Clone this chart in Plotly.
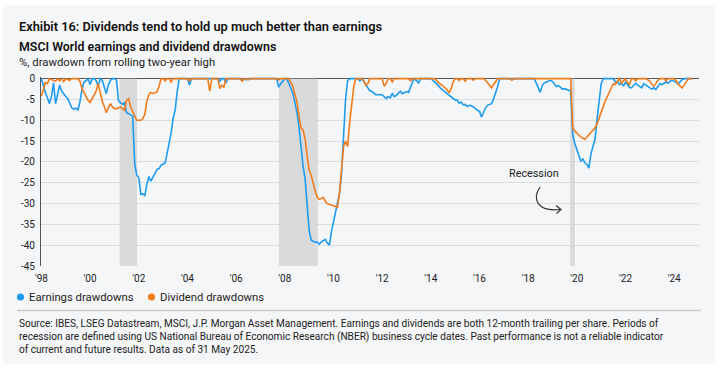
import plotly.graph_objects as go

# ---------------- data ----------------
earn_dates = [
    "1998-01","1998-02","1998-03","1998-04","1998-05","1998-06","1998-07","1998-08","1998-09","1998-10","1998-11","1998-12",
    "1999-01","1999-02","1999-03","1999-04","1999-05","1999-06","1999-07","1999-08","1999-09","1999-10","1999-11","1999-12",
    "2000-01","2000-02","2000-03","2000-04","2000-05","2000-06","2000-07","2000-08","2000-09","2000-10","2000-11","2000-12",
    "2001-01","2001-02","2001-03","2001-04","2001-05","2001-06","2001-07","2001-08","2001-09","2001-10","2001-11","2001-12",
    "2002-01","2002-02","2002-03","2002-04","2002-05","2002-06","2002-07","2002-08","2002-09","2002-10","2002-11","2002-12",
    "2003-01","2003-02","2003-03","2003-04","2003-05","2003-06","2003-07","2003-08","2003-09",
    "2004-01","2004-02","2004-03",
    "2005-04","2005-05","2005-06","2005-07","2005-08","2005-09",
    "2006-03","2006-04","2006-05","2006-06","2006-07",
    "2007-09","2007-10","2007-11","2007-12","2008-01","2008-02","2008-03",
    "2008-04","2008-05","2008-06","2008-07","2008-08","2008-09","2008-10","2008-11","2008-12",
    "2009-01","2009-02","2009-03","2009-04","2009-05","2009-06","2009-07","2009-08","2009-09","2009-10","2009-11","2009-12",
    "2010-01","2010-02","2010-03","2010-04","2010-05","2010-06","2010-07","2010-08","2010-09",
    "2011-01","2011-02","2011-03","2011-04","2011-05","2011-06","2011-07","2011-08","2011-09","2011-10","2011-11","2011-12",
    "2012-01","2012-02","2012-03","2012-04","2012-05","2012-06","2012-07","2012-08","2012-09","2012-10","2012-11","2012-12",
    "2013-01","2013-02","2013-03","2013-04","2013-05","2013-06","2013-07","2013-08",
    "2014-01","2014-02","2014-03","2014-04","2014-05","2014-06","2014-07","2014-08","2014-09","2014-10","2014-11","2014-12",
    "2015-01","2015-02","2015-03","2015-04","2015-05","2015-06","2015-07","2015-08","2015-09","2015-10","2015-11","2015-12",
    "2016-01","2016-02","2016-03","2016-04","2016-05","2016-06","2016-07","2016-08","2016-09","2016-10","2016-11",
    "2018-04","2018-05","2018-06","2018-07","2018-08","2018-09","2018-10","2018-11","2018-12",
    "2019-01","2019-02","2019-03","2019-04","2019-05","2019-06","2019-07","2019-08","2019-09","2019-10","2019-11","2019-12",
    "2020-01","2020-02","2020-03","2020-04","2020-05","2020-06","2020-07","2020-08","2020-09","2020-10","2020-11","2020-12",
    "2021-01","2021-02","2021-07","2021-08","2021-09","2021-10","2021-11","2021-12",
    "2022-01","2022-02","2022-03","2022-04","2022-05","2022-06","2022-07","2022-08","2022-09","2022-10","2022-11","2022-12",
    "2023-01","2023-02","2023-03","2023-04","2023-05","2023-06","2023-07","2023-08","2023-09","2023-10","2023-11","2023-12",
    "2024-01","2024-02","2024-03","2024-04","2024-05","2024-06","2024-10",
]
earn_vals = [
    0, -2, -3.4, -4.6, -6, -4.2, -1, -6, -3.2, -1.5, -3, -3.8,
    -4.3, -4.8, -6, -7, -7.3, -7.1, -7.6, -5.6, -2.6, -0.8, -0.5, 0,
    -1.4, 0, 0, -0.5, -1.8, 0, -0.4, -2, -3.6, -1.5, -0.4, 0,
    0, -0.4, -5.2, -5.8, -6.1, -5.8, -8.2, -8.4, -8.7, -9, -20.5, -23.2,
    -23.8, -27.8, -27.7, -28.1, -25.5, -23.5, -24.6, -23.6, -22.8, -21.8, -21.6, -20.8,
    -20.5, -20.2, -18, -15.5, -13, -9.5, -7.5, -3, 0,
    0, -1.5, 0,
    0, -0.6, 0, 0, -1, 0,
    0, -0.4, 0, -0.3, 0,
    0, -2, -1.2, -0.5, 0, 0, -1,
    -2.4, -3.5, -5.8, -8, -11.5, -17, -21, -24, -30,
    -36.5, -38.8, -39, -39.3, -39.2, -39.8, -39.2, -38.8, -38.6, -39.5, -40, -36.8,
    -34.5, -32.5, -30.5, -27.5, -23, -14, -5, -0.5, 0,
    0, -0.5, 0, -0.8, -1.4, -2.4, -2.9, -3.1, -3.6, -3.9, -3.8, -3.9,
    -3.9, -4.3, -4.8, -4.3, -4.6, -3.5, -4.3, -4, -3.4, -3, -3.6, -3.3,
    -3.1, -3.3, -2, -0.8, 0, -0.5, -1, 0,
    0, -0.4, -0.8, -1.2, -1.8, -2.4, -2.7, -3.1, -3.6, -4, -4.5, -4.8,
    -5.1, -5.2, -5.9, -5.6, -6.3, -6.2, -6.7, -6.4, -6.5, -6.8, -7.3, -7.6,
    -7.8, -9.2, -8.2, -7, -6.4, -6.2, -6, -4.8, -3.4, -1.8, 0,
    0, -1, -2.2, -3.3, -1.6, -1, -0.8, -0.6, -0.4,
    -0.7, -1.5, -1.9, -1.7, -2.1, -2.5, -2.4, -2.7, -2.8, -3, -13.5, -15.5,
    -17, -18.8, -19.8, -19.3, -20.2, -20.6, -21.5, -18, -16, -14.5, -9.5, -5,
    -1.2, 0, 0, -0.8, -0.6, -1.4, -1, -1.8,
    -0.9, -1.4, -2.2, -2.2, -1.6, -1.1, -1.5, -1.9, -2.2, -1.2, -1.6, -2,
    -2.2, -2.5, -2.2, -2.6, -1.8, -1.2, -1.4, -1, -0.8, -1.1, -0.6, -0.4,
    -0.6, -0.9, -1.3, -0.8, -0.2, 0, 0,
]

div_dates = [
    "1998-01","1998-02","1998-03","1998-04","1998-05","1998-08","1998-09","1998-10","1998-11","1998-12",
    "1999-01","1999-03","1999-04","1999-07","1999-08","1999-09","1999-10","1999-11","1999-12",
    "2000-01","2000-02","2000-03","2000-04","2000-05","2000-06","2000-07","2000-08","2000-09","2000-10","2000-11","2000-12",
    "2001-01","2001-02","2001-03","2001-04","2001-05","2001-06","2001-07","2001-08","2001-09","2001-10","2001-11","2001-12",
    "2002-01","2002-02","2002-03","2002-04","2002-05","2002-06","2002-07","2002-08","2002-09","2002-10","2002-11","2002-12",
    "2003-01","2003-02","2003-03","2003-04","2003-05","2003-06","2004-01","2004-02","2004-03","2004-11","2004-12",
    "2005-01","2005-04","2005-05","2005-06","2005-07","2005-08","2006-03","2006-04","2006-05","2006-06","2006-07","2006-08",
    "2007-09","2007-10","2007-11",
    "2008-03","2008-04","2008-05","2008-06","2008-07","2008-08","2008-09","2008-10","2008-11","2008-12",
    "2009-01","2009-02","2009-03","2009-04","2009-05","2009-06","2009-07","2009-08","2009-09","2009-10","2009-11","2009-12",
    "2010-01","2010-02","2010-03","2010-04","2010-05","2010-06","2010-07","2010-08","2010-09","2010-10","2010-11","2010-12",
    "2011-03","2011-04","2011-05","2011-06","2011-07","2012-01","2012-02","2012-03","2012-04","2012-05","2012-06","2012-07",
    "2013-02","2013-03","2013-04",
    "2014-03","2014-04","2014-05","2014-06","2014-07","2014-08","2014-09","2014-10","2014-11","2014-12",
    "2015-01","2015-02","2015-03","2015-04","2015-05","2015-06","2015-07","2015-09","2015-10","2015-11",
    "2016-03","2016-04","2016-05","2016-06","2016-07","2016-08","2016-09","2016-10","2017-04","2017-05","2017-06",
    "2019-10","2019-11","2019-12",
    "2020-01","2020-02","2020-03","2020-04","2020-05","2020-06","2020-07","2020-08","2020-09","2020-10","2020-11","2020-12",
    "2021-01","2021-02","2021-03","2021-04","2021-05","2021-06","2021-07","2021-08","2021-09","2021-10","2021-11","2021-12",
    "2022-01","2022-02","2022-03","2022-04","2022-05","2022-06","2022-07","2022-11","2022-12",
    "2023-01","2023-02","2023-03","2023-04","2023-05","2023-06","2023-08","2023-09","2023-10",
    "2024-01","2024-02","2024-03","2024-04","2024-05","2024-06","2024-07","2024-08","2024-10",
]
div_vals = [
    -4.2, -2.2, -0.9, -1.2, 0, -0.6, 0, -0.5, 0, -0.7,
    0, -0.4, 0, 0, -0.6, -2.4, -3.4, -4.4, -5.2,
    -5.7, -4.8, -3.6, -3, -1.2, -3.5, -5.4, -6.7, -8.2, -7, -6, -6.8,
    -7.2, -7.2, -7, -6.8, -7.2, -7.6, -5.2, -4.8, -6.8, -8, -9, -10,
    -10, -10, -9.6, -8.6, -5.5, -3.8, -3.3, -3.6, -3.4, -3.2, -1.8, 0,
    0, -0.5, 0, 0, -0.8, 0, 0, -0.5, 0, 0, -3,
    0, 0, -2.4, -1.6, -2, 0, 0, -0.6, 0, 0, -0.3, 0,
    0, -0.3, 0,
    0, -1, -1.8, -3.8, -5.5, -9, -11.8, -12.4, -14.5, -18.5,
    -22, -23.2, -25.2, -27, -28.5, -29, -28.8, -28.5, -29.5, -30, -30.2, -30.3,
    -30.5, -30.7, -30.9, -27.5, -22, -16.3, -15, -16.3, -10.5, -6, -2, 0,
    0, -0.5, -1.6, -1.2, 0, 0, -1.8, -1.2, 0, 0, -0.8, 0,
    0, -0.5, 0,
    0, -0.6, -1, -1.4, -1.8, -2.2, -2.6, -3.4, -2.4, -0.8,
    0, 0, -0.4, 0, 0, -0.6, 0, 0, -0.4, 0,
    0, -0.4, -1, -1.4, -2.2, -1.4, -0.6, 0, 0, -0.4, 0,
    0, -12, -12.6,
    -13.2, -13.6, -14, -14.4, -14.6, -14, -13.4, -12.8, -12.3, -11.8, -10.8, -9.4,
    -7.8, -6.6, -5.4, -4.4, -3.4, -2.4, -1.2, -1.4, -0.6, 0, -1, -0.5,
    0, -1, -1.4, 0, 0, -0.5, 0, 0, -0.3,
    -0.6, -1.4, -1.8, -1.2, -0.4, 0, 0, -0.5, 0,
    0, -0.5, -1.4, -1.8, -2.2, -1.5, -0.8, 0, 0,
]

series_names = ["Earnings drawdowns", "Dividend drawdowns"]

# recession bands (as positioned in the reference)
rec_start = ["2001-03-18", "2007-10-05", "2019-09-24"]
rec_end = ["2001-12-05", "2009-05-10", "2019-12-01"]

# axis ticks
x_tickvals = [f"{y}-01-01" for y in range(1998, 2025, 2)]
x_ticktext = ["'98", "'00", "'02", "'04", "'06", "'08", "'10", "'12", "'14", "'16", "'18", "'20", "'22", "'24"]
y_tickvals = [-45, -40, -35, -30, -25, -20, -15, -10, -5, 0]
y_ticktext = ["-45", "-40", "-35", "-30", "-25", "-20", "-15", "-10", "-5", "0"]

# ---------------- layout helpers ----------------
W, H = 720, 369
L, R, T, B = 41, 21, 77, 103
PW, PH = W - L - R, H - T - B


def px(X):
    return (X - L) / PW


def py(Y):
    return (H - B - Y) / PH


BLUE = "#1f9bf0"
ORANGE = "#f07c1c"
PANEL = "#f5f6f8"
FONT = "Roboto"
TXT = "#222222"

fig = go.Figure()
fig.add_trace(go.Scatter(x=earn_dates, y=earn_vals, mode="lines",
                         line=dict(color=BLUE, width=1.6), showlegend=False,
                         name=series_names[0]))
fig.add_trace(go.Scatter(x=div_dates, y=div_vals, mode="lines",
                         line=dict(color=ORANGE, width=1.6), showlegend=False,
                         name=series_names[1]))

shapes = [
    dict(type="rect", xref="paper", yref="paper", x0=px(3), x1=px(715), y0=py(364), y1=py(5),
         fillcolor=PANEL, line=dict(width=0), layer="below"),
    dict(type="line", xref="paper", yref="paper", x0=px(17), x1=px(701), y0=py(310.5), y1=py(310.5),
         line=dict(color="#c8c9cb", width=1.5)),
]
for s, e in zip(rec_start, rec_end):
    shapes.append(dict(type="rect", xref="x", yref="y", x0=s, x1=e, y0=-45, y1=0,
                       fillcolor="#d9dadb", line=dict(width=0), layer="between"))

# curved arrow for the "Recession" label
arrow_path = "M {:.4f},{:.4f} C {:.4f},{:.4f} {:.4f},{:.4f} {:.4f},{:.4f}".format(
    px(540), py(187), px(532), py(199), px(537), py(212), px(560), py(209.5))
head_path = "M {:.4f},{:.4f} L {:.4f},{:.4f} L {:.4f},{:.4f}".format(
    px(556), py(205.5), px(561), py(209.5), px(556.5), py(213.5))
shapes.append(dict(type="path", xref="paper", yref="paper", path=arrow_path,
                   line=dict(color="#333333", width=1.2)))
shapes.append(dict(type="path", xref="paper", yref="paper", path=head_path,
                   line=dict(color="#333333", width=1.2)))

# legend dots
for cx, col in zip([20.5, 151.5], [BLUE, ORANGE]):
    shapes.append(dict(type="circle", xref="paper", yref="paper",
                       x0=px(cx - 3.6), x1=px(cx + 3.6), y0=py(297 + 3.6), y1=py(297 - 3.6),
                       fillcolor=col, line=dict(width=0)))

annotations = [
    dict(text="Exhibit 16: Dividends tend to hold up much better than earnings",
         x=px(17), y=py(27), xref="paper", yref="paper", xanchor="left", yanchor="middle",
         showarrow=False, font=dict(family=FONT, size=12.8, color="#111111", weight=600)),
    dict(text="MSCI World earnings and dividend drawdowns",
         x=px(17), y=py(46), xref="paper", yref="paper", xanchor="left", yanchor="middle",
         showarrow=False, font=dict(family=FONT, size=12.4, color="#111111", weight=600)),
    dict(text="%, drawdown from rolling two-year high",
         x=px(17), y=py(63), xref="paper", yref="paper", xanchor="left", yanchor="middle",
         showarrow=False, font=dict(family=FONT, size=11.3, color=TXT)),
    dict(text="Recession", x=px(534), y=py(173), xref="paper", yref="paper",
         xanchor="center", yanchor="middle", showarrow=False,
         font=dict(family=FONT, size=10.8, color=TXT)),
    dict(text=series_names[0], x=px(26.5), y=py(297), xref="paper", yref="paper",
         xanchor="left", yanchor="middle", showarrow=False,
         font=dict(family=FONT, size=11.3, color=TXT)),
    dict(text=series_names[1], x=px(157.5), y=py(297), xref="paper", yref="paper",
         xanchor="left", yanchor="middle", showarrow=False,
         font=dict(family=FONT, size=11.3, color=TXT)),
    dict(text=("Source: IBES, LSEG Datastream, MSCI, J.P. Morgan Asset Management. Earnings and dividends are both 12-month trailing per share. Periods of<br>"
               "recession are defined using US National Bureau of Economic Research (NBER) business cycle dates. Past performance is not a reliable indicator<br>"
               "of current and future results. Data as of 31 May 2025."),
         x=px(17), y=py(316), xref="paper", yref="paper", xanchor="left", yanchor="top",
         align="left", showarrow=False, font=dict(family=FONT, size=10.1, color=TXT)),
]

fig.update_layout(
    width=W, height=H,
    margin=dict(l=L, r=R, t=T, b=B, pad=0),
    paper_bgcolor="white",
    plot_bgcolor=PANEL,
    font=dict(family=FONT, size=10, color=TXT),
    shapes=shapes,
    annotations=annotations,
    showlegend=False,
    xaxis=dict(type="date", range=["1997-12-25", "2025-01-08"],
               tickmode="array", tickvals=x_tickvals, ticktext=x_ticktext,
               showgrid=False, zeroline=False, showline=False, ticks="",
               ticklabelstandoff=5,
               tickfont=dict(family=FONT, size=10, color=TXT)),
    yaxis=dict(range=[-45, 0.4], tickmode="array", tickvals=y_tickvals, ticktext=y_ticktext,
               showgrid=True, gridcolor="#dcdddf", gridwidth=1,
               zeroline=True, zerolinecolor="#555555", zerolinewidth=1,
               showline=True, linecolor="#555555", linewidth=1, ticks="",
               ticklabelstandoff=3,
               tickfont=dict(family=FONT, size=10, color=TXT)),
)

fig.write_html("out.html", config={"displayModeBar": False},
               post_script="document.body.style.margin='0px';")
